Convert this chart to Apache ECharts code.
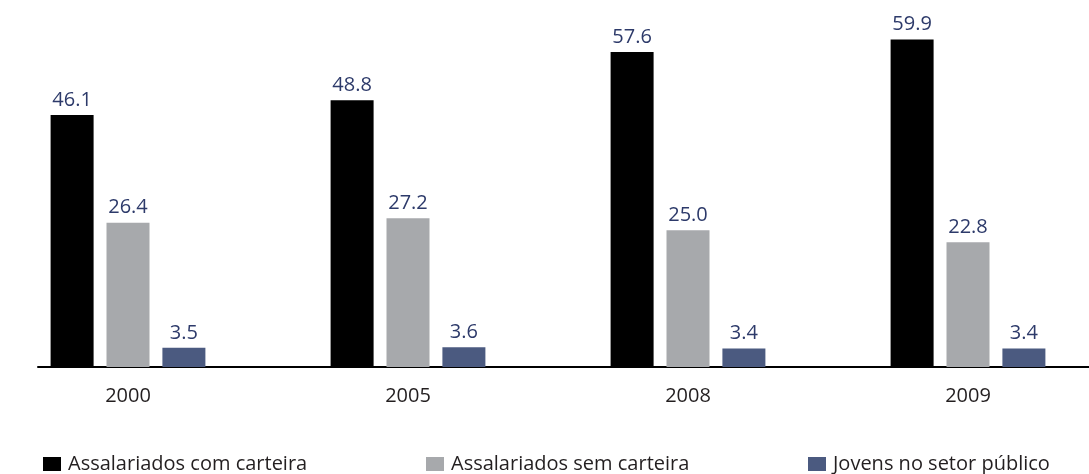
<!DOCTYPE html>
<html>
<head>
<meta charset="utf-8">
<script src="https://cdn.jsdelivr.net/npm/echarts@6/dist/echarts.min.js"></script>
<style>
  html, body { margin: 0; padding: 0; background: #fff; }
  #main { width: 1089px; height: 474px; }
</style>
</head>
<body>
<div id="main"></div>
<script>
// dados
var anos = ['2000', '2005', '2008', '2009'];
var comCarteira = [46.1, 48.8, 57.6, 59.9];
var semCarteira = [26.4, 27.2, 25.0, 22.8];
var setorPublico = [3.5, 3.6, 3.4, 3.4];
var nomes = ['Assalariados com carteira', 'Assalariados sem carteira', 'Jovens no setor público'];

var cores = ['#000000', '#a7a9ac', '#4b5a80'];
var fonte = '"Open Sans", sans-serif';

var chart = echarts.init(document.getElementById('main'));

function rotulo() {
  return {
    show: true,
    position: 'top',
    distance: 5,
    color: '#2d3a6a',
    fontSize: 20,
    fontFamily: fonte,
    formatter: function (p) { return p.value.toFixed(1); }
  };
}

function legenda(i, left) {
  return {
    data: [nomes[i]],
    left: left,
    top: 449,
    itemWidth: 18,
    itemHeight: 14,
    itemGap: 0,
    icon: 'rect',
    textStyle: { fontSize: 20, fontFamily: fonte, color: '#231f20', padding: [0, 0, 0, 2] }
  };
}

var option = {
  animation: false,
  grid: [
    { left: -12, width: 1120, top: 39, bottom: 107, outerBoundsMode: 'none' },
    // só para a linha do eixo
    { left: 38, right: 0, top: 39, bottom: 107 }
  ],
  legend: [legenda(0, 38), legenda(1, 421), legenda(2, 803)],
  xAxis: [
    {
      type: 'category',
      data: anos,
      gridIndex: 0,
      axisLine: { show: false },
      axisTick: { show: false },
      axisLabel: { color: '#231f20', fontSize: 20, fontFamily: fonte, margin: 19 }
    },
    {
      type: 'value',
      gridIndex: 1,
      axisLine: { show: true, lineStyle: { color: '#000', width: 2 } },
      axisTick: { show: false },
      axisLabel: { show: false },
      splitLine: { show: false }
    }
  ],
  yAxis: [
    { type: 'value', gridIndex: 0, min: 0, max: 60, show: false },
    { type: 'value', gridIndex: 1, show: false }
  ],
  series: [
    {
      name: nomes[0], type: 'bar', data: comCarteira,
      barWidth: 43, barGap: '30%',
      itemStyle: { color: cores[0] }, label: rotulo()
    },
    {
      name: nomes[1], type: 'bar', data: semCarteira,
      barWidth: 43, barGap: '30%',
      itemStyle: { color: cores[1] }, label: rotulo()
    },
    {
      name: nomes[2], type: 'bar', data: setorPublico,
      barWidth: 43, barGap: '30%',
      itemStyle: { color: cores[2] }, label: rotulo()
    }
  ]
};

chart.setOption(option);
</script>
</body>
</html>
